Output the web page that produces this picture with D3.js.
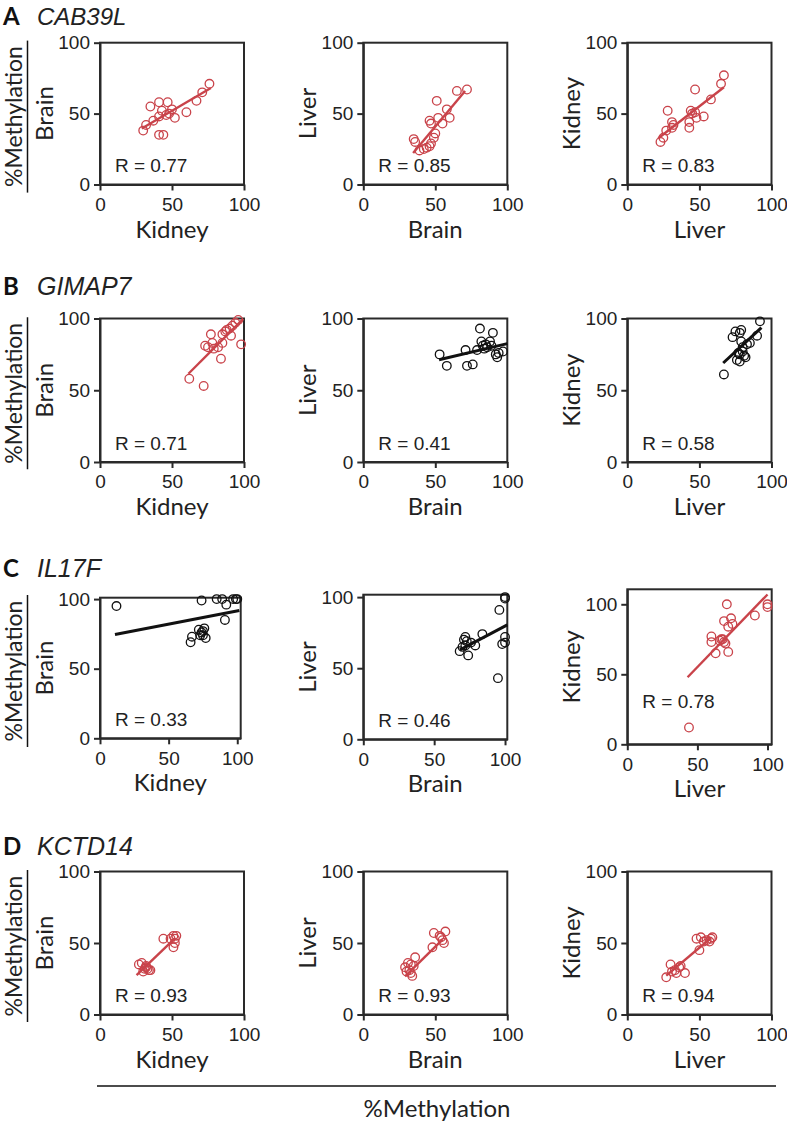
<!DOCTYPE html>
<html><head><meta charset="utf-8">
<script src="https://cdn.jsdelivr.net/npm/d3@7"></script>
<style>body{margin:0;background:#fff}</style>
</head><body><svg id="c" width="787" height="1124"></svg>
<script>
const genes = ["CAB39L","GIMAP7","IL17F","KCTD14"];
const panelLetters = ["A","B","C","D"];
const xTissues = ["Kidney","Brain","Liver"];
const yTissues = ["Brain","Liver","Kidney"];
const tickValues = [0,50,100];
const rValues = [[0.77,0.85,0.83],[0.71,0.41,0.58],[0.33,0.46,0.78],[0.93,0.93,0.94]];
const significant = [[true,true,true],[true,false,false],[false,false,true],[true,true,true]];
const xMax = [[100,100,100],[100,100,100],[102.5,101.6,103],[100,100,100]];
const yMax = [[100,100,100],[100,100,100],[101,101.7,110.7],[100,100,100]];

// CAB39L
const cab39l_kidney_brain = [[30,38],[32,42],[37,45],[35,55],[41,58],[47,58],[43,52],[41,48],[46,49],[52,47],[60,51],[67,59],[71,65],[76,71],[41,35],[44,35],[48,50],[50,53]];
const cab39l_brain_liver = [[35,32],[36,30],[39,24],[42,25],[44,26],[46,27],[47,29],[49,33],[50,36],[46,45],[47,43],[51,59],[52,47],[55,43],[58,53],[60,47],[65,66],[72,67]];
const cab39l_liver_kidney = [[23,30],[25,33],[27,38],[28,52],[31,44],[32,42],[31,40],[43,40],[43,44],[44,52],[47,67],[47,51],[48,47],[53,48],[58,60],[65,71],[67,77],[45,50]];
// GIMAP7
const gimap7_kidney_brain = [[62,58],[72,53],[73,81],[75,80],[77,89],[78,83],[79,79],[82,80],[84,72],[85,83],[85,89],[87,91],[88,92],[90,93],[92,95],[94,97],[96,99],[98,82],[91,88]];
const gimap7_brain_liver = [[53,75],[58,67],[71,78],[72,67],[76,68],[81,93],[79,78],[82,84],[83,81],[85,82],[84,79],[88,84],[90,90],[89,81],[92,75],[94,76],[97,77],[93,73],[86,80]];
const gimap7_liver_kidney = [[67,61],[73,87],[75,91],[78,90],[79,92],[76,71],[78,70],[79,84],[80,77],[81,74],[82,73],[85,83],[90,88],[92,98],[77,76],[80,80],[78,75],[83,82]];
// IL17F
const il17f_kidney_brain = [[12,95],[74,99],[85,100],[89,100],[92,96],[91,85],[97,100],[99,100],[100,100],[66,69],[67,73],[72,78],[74,76],[75,77],[73,74],[76,79],[75,74],[77,72]];
const il17f_brain_liver = [[68,62],[71,70],[72,72],[73,69],[74,59],[76,68],[79,66],[84,74],[96,91],[95,43],[98,67],[100,100],[100,99],[100,72],[100,68],[70,65],[72,66]];
const il17f_liver_kidney = [[44,12],[63,65],[60,77],[60,73],[66,74],[68,75],[69,73],[70,72],[69,88],[71,100],[72,66],[72,84],[74,90],[75,86],[91,92],[100,100],[100,98],[67,75]];
// KCTD14
const kctd14_kidney_brain = [[27,35],[29,36],[31,32],[32,34],[34,31],[35,31],[30,30],[32,33],[44,53],[49,53],[51,55],[53,55],[51,47],[52,50],[33,32],[52,53]];
const kctd14_brain_liver = [[29,33],[31,36],[32,31],[33,29],[34,27],[35,34],[36,40],[30,30],[49,57],[53,55],[55,52],[57,58],[56,50],[48,47],[33,35],[54,54]];
const kctd14_liver_kidney = [[27,26],[30,35],[31,30],[33,31],[36,33],[37,34],[40,29],[34,29],[48,53],[51,54],[50,45],[53,51],[55,52],[58,53],[59,54],[57,51]];

// regression lines [x1,y1,x2,y2]
const fitCAB39L = [[29,39.5,77,68],[34.6,22.2,70.7,66],[21.5,32.6,67,68.6]];
const fitGIMAP7 = [[61.4,61.5,99.5,99.8],[52.6,71.3,100,82.5],[66.5,69,93,93.7]];
const fitIL17F = [[10.9,74.6,101.5,91.8],[68.2,62.9,101.6,80.5],[43,47.9,100,107]];
const fitKCTD14 = [[25.4,27.6,52,53.3],[29,26.7,55,52.3],[27,27.2,58,53.5]];

const points = [
  [cab39l_kidney_brain, cab39l_brain_liver, cab39l_liver_kidney],
  [gimap7_kidney_brain, gimap7_brain_liver, gimap7_liver_kidney],
  [il17f_kidney_brain, il17f_brain_liver, il17f_liver_kidney],
  [kctd14_kidney_brain, kctd14_brain_liver, kctd14_liver_kidney]
];
const fits = [fitCAB39L, fitGIMAP7, fitIL17F, fitKCTD14];

// layout
const colL = [100, 363.3, 627.3], colR = [244, 507.3, 771.5];
const rowTB = [[42.7,184.5],[318.5,462],null,[871.5,1014.5]];
const rowC = [[100,240.7,597.7,738.3],[363.3,507.3,594.7,739.3],[627.3,771.7,589.3,744.3]];
const titleY = [24.5, 295, 577, 855];
const RED = "#c9434a", BLACK = "#111";
const AX = "#2a2a2a";
const TICKFONT = "'Liberation Sans', Arial, sans-serif";
const LABFONT = "Lato, 'Open Sans', sans-serif";

const svg = d3.select("#c");

for (let r = 0; r < 4; r++) {
  // title
  svg.append("text").attr("x", 3).attr("y", titleY[r])
    .attr("font-family", LABFONT).attr("font-weight", 700).attr("font-size", 24)
    .attr("fill", "#111").text(panelLetters[r]);
  svg.append("text").attr("x", 37).attr("y", titleY[r])
    .attr("font-family", TICKFONT).attr("font-style", "italic").attr("font-size", r === 0 ? 24 : 25)
    .attr("fill", "#222").text(genes[r]);

  for (let c = 0; c < 3; c++) {
    let L, R, T, B;
    if (r === 2) { [L, R, T, B] = rowC[c]; }
    else { L = colL[c]; R = colR[c]; T = rowTB[r][0]; B = rowTB[r][1]; }
    const x = d3.scaleLinear().domain([0, xMax[r][c]]).range([L, R]);
    const y = d3.scaleLinear().domain([0, yMax[r][c]]).range([B, T]);
    const col = significant[r][c] ? RED : BLACK;
    const g = svg.append("g");

    // frame
    g.append("rect").attr("x", L).attr("y", T).attr("width", R - L).attr("height", B - T)
      .attr("fill", "none").attr("stroke", AX).attr("stroke-width", 2);

    const xa = g.append("g").attr("transform", `translate(0,${B})`)
      .call(d3.axisBottom(x).tickValues(tickValues).tickSize(6).tickSizeOuter(0).tickPadding(7));
    const ya = g.append("g").attr("transform", `translate(${L},0)`)
      .call(d3.axisLeft(y).tickValues(tickValues).tickSize(6).tickSizeOuter(0).tickPadding(4));
    [xa, ya].forEach(a => {
      a.select(".domain").attr("stroke", AX).attr("stroke-width", 2);
      a.selectAll(".tick line").attr("stroke", AX).attr("stroke-width", 2);
      a.selectAll(".tick text").attr("font-family", TICKFONT).attr("font-size", 19).attr("fill", "#222");
    });

    // axis titles
    g.append("text").attr("x", (L + R) / 2).attr("y", B + 53)
      .attr("text-anchor", "middle").attr("font-family", LABFONT).attr("font-size", 24)
      .attr("fill", "#222").text(xTissues[c]);
    g.append("text").attr("transform", `translate(${L - 47},${(T + B) / 2}) rotate(-90)`)
      .attr("text-anchor", "middle").attr("font-family", LABFONT).attr("font-size", 24)
      .attr("fill", "#222").text(yTissues[c]);

    // points
    g.append("g").selectAll("circle").data(points[r][c]).join("circle")
      .attr("cx", d => x(d[0])).attr("cy", d => y(d[1])).attr("r", 4.3)
      .attr("fill", "none").attr("stroke", col).attr("stroke-width", 1.3);

    // fit line
    const f = fits[r][c];
    g.append("line").attr("x1", x(f[0])).attr("y1", y(f[1])).attr("x2", x(f[2])).attr("y2", y(f[3]))
      .attr("stroke", col).attr("stroke-width", significant[r][c] ? 2.4 : 3);

    // R label
    const rOff = (r === 2 && c === 2) ? 36 : 12.5;
    g.append("text").attr("x", L + 15).attr("y", B - rOff)
      .attr("font-family", TICKFONT).attr("font-size", 19).attr("fill", "#222")
      .text("R = " + rValues[r][c].toFixed(2));
  }

  // row %Methylation label with line
  let T, B;
  if (r === 2) { T = 597.7; B = 738.3; } else { T = rowTB[r][0]; B = rowTB[r][1]; }
  const cy = (T + B) / 2 + 3;
  svg.append("text").attr("transform", `translate(21.5,${cy}) rotate(-90)`)
    .attr("text-anchor", "middle").attr("font-family", LABFONT).attr("font-size", 23)
    .attr("fill", "#222").text("%Methylation");
  svg.append("line").attr("x1", 27.5).attr("x2", 27.5).attr("y1", cy - 76).attr("y2", cy + 76)
    .attr("stroke", "#111").attr("stroke-width", 1.5);
}

// bottom common label
svg.append("line").attr("x1", 97).attr("x2", 776).attr("y1", 1086).attr("y2", 1086)
  .attr("stroke", "#111").attr("stroke-width", 1.5);
svg.append("text").attr("x", 437).attr("y", 1117).attr("text-anchor", "middle")
  .attr("font-family", LABFONT).attr("font-size", 24).attr("fill", "#222").text("%Methylation");
</script>
</body></html>
